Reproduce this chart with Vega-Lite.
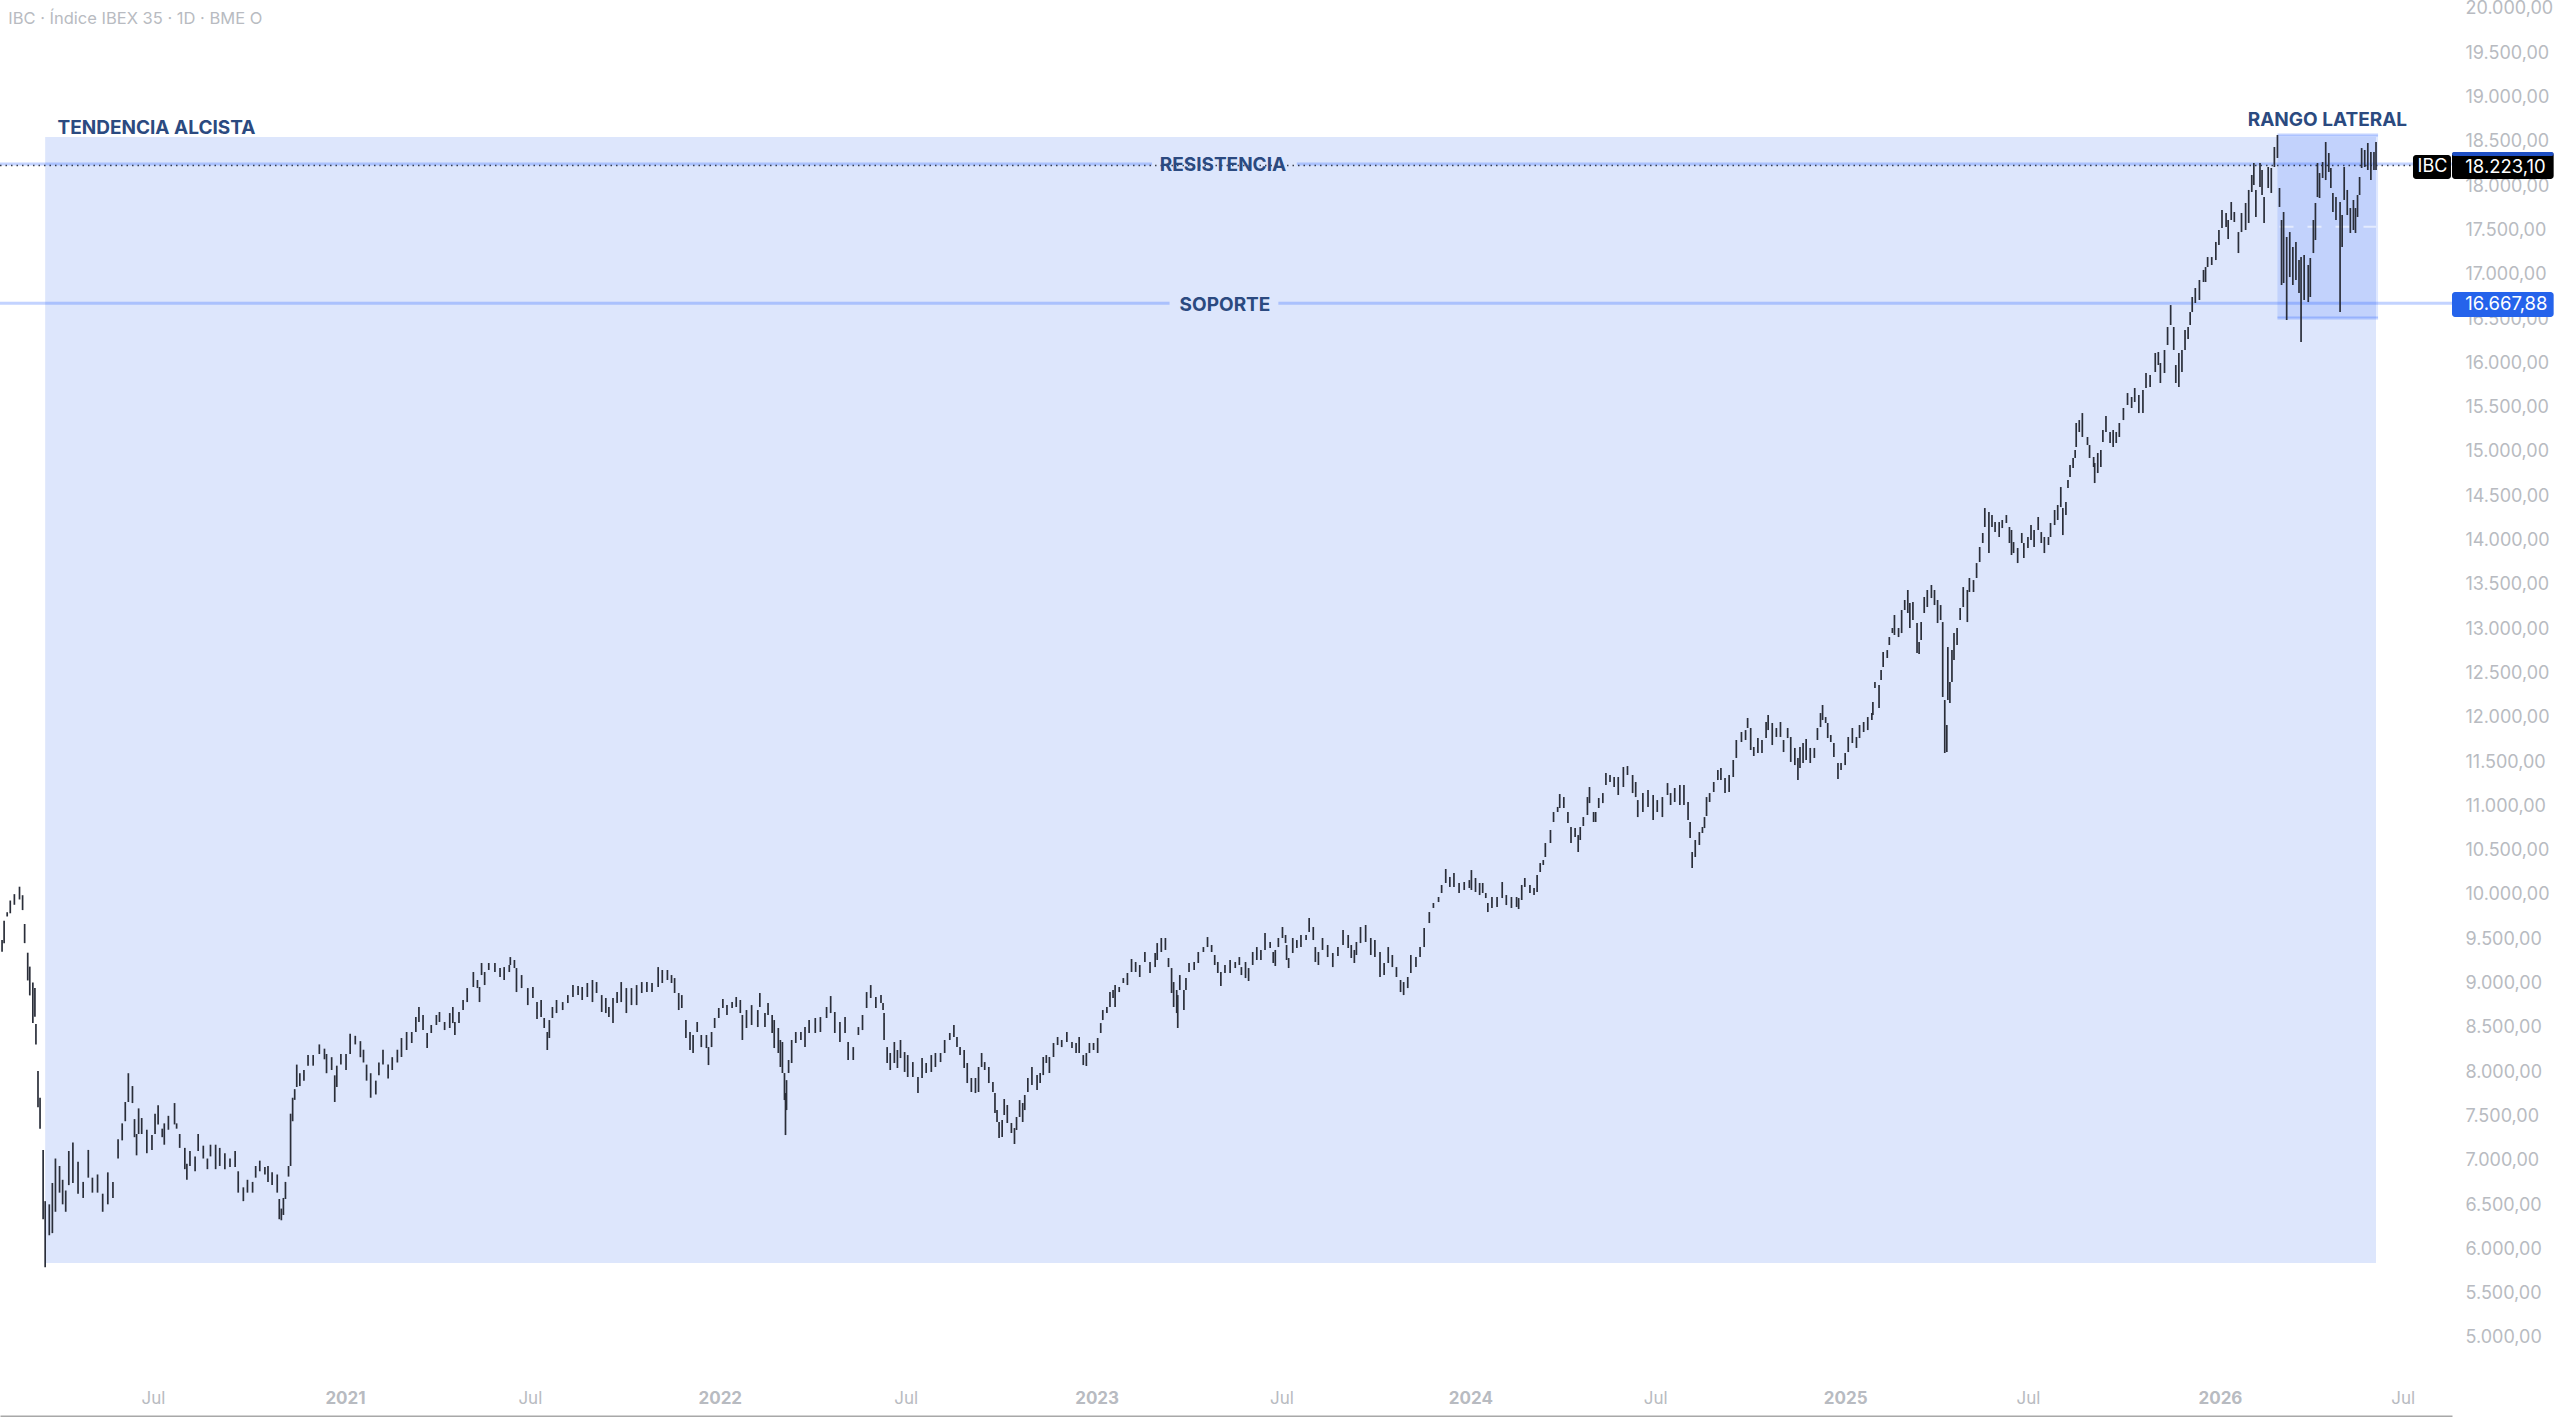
{
"$schema":"https://vega.github.io/schema/vega-lite/v6.json",
"width":2452,"height":1416,"autosize":{"type":"none"},"padding":{"left":0,"top":0,"right":108,"bottom":1},
"background":"#ffffff","config":{"view":{"stroke":null},"font":"Inter"},
"datasets":{
"zones":[{"name":"tendencia","a":"2020-03-15","b":"2026-06-02","lo":5835,"hi":18544},{"name":"rango","a":"2026-02-26","b":"2026-06-04","lo":16501,"hi":18567}],
"levels":[{"name":"resistencia","a":"2020-01-31","b":"2023-02-26","v":18240},{"name":"resistencia","a":"2023-07-17","b":"2026-08-15","v":18240},{"name":"soporte","a":"2020-01-31","b":"2023-03-15","v":16667.88},{"name":"soporte","a":"2023-06-29","b":"2026-08-15","v":16667.88},{"name":"rango techo","a":"2026-02-26","b":"2026-06-04","v":18567},{"name":"rango suelo","a":"2026-02-26","b":"2026-06-04","v":16501}],
"tags":[{"name":"valor","a":"2026-08-15","b":"2026-11-22","lo":18070,"hi":18375,"c":"#000000"},{"name":"simbolo","a":"2026-07-08","b":"2026-08-14","lo":18070,"hi":18340,"c":"#000000"},{"name":"tope","a":"2026-08-15","b":"2026-11-22","lo":18330,"hi":18375,"c":"#1e4fc4"},{"name":"soporte","a":"2026-08-15","b":"2026-11-22","lo":16512,"hi":16794,"c":"#2563eb"}],
"notes":[{"t":"RESISTENCIA","d":"2023-05-06","v":18225},{"t":"SOPORTE","d":"2023-05-08","v":16650}],
"notesLeft":[{"t":"TENDENCIA ALCISTA","d":"2020-03-27","v":18640},{"t":"RANGO LATERAL","d":"2026-01-28","v":18730}],
"tagText":[{"t":"18.223,10","d":"2026-08-28","v":18205},{"t":"16.667,88","d":"2026-08-28","v":16660}],
"bars":[
{"d":"2020-02-02","h":9481,"l":9349},{"d":"2020-02-04","h":9697,"l":9445},{"d":"2020-02-07","h":9794,"l":9746},{"d":"2020-02-10","h":9926,"l":9782},{"d":"2020-02-14","h":9998,"l":9878},{"d":"2020-02-19","h":10082,"l":9938},{"d":"2020-02-22","h":9986,"l":9818},{"d":"2020-02-24","h":9661,"l":9445},{"d":"2020-02-27","h":9337,"l":9024},{"d":"2020-02-29","h":9180,"l":8855},{"d":"2020-03-03","h":9000,"l":8543},{"d":"2020-03-05","h":8940,"l":8615},{"d":"2020-03-06","h":8531,"l":8302},{"d":"2020-03-08","h":8001,"l":7592},{"d":"2020-03-10","h":7700,"l":7351},{"d":"2020-03-13","h":7111,"l":6329},{"d":"2020-03-15","h":6533,"l":5787},{"d":"2020-03-19","h":6497,"l":6148},{"d":"2020-03-22","h":6738,"l":6172},{"d":"2020-03-25","h":7014,"l":6413},{"d":"2020-03-29","h":6930,"l":6629},{"d":"2020-04-01","h":6774,"l":6497},{"d":"2020-04-04","h":6653,"l":6413},{"d":"2020-04-07","h":7099,"l":6714},{"d":"2020-04-11","h":7195,"l":6738},{"d":"2020-04-16","h":6979,"l":6617},{"d":"2020-04-21","h":6750,"l":6569},{"d":"2020-04-26","h":7111,"l":6798},{"d":"2020-04-30","h":6798,"l":6629},{"d":"2020-05-05","h":6834,"l":6629},{"d":"2020-05-10","h":6617,"l":6413},{"d":"2020-05-15","h":6858,"l":6497},{"d":"2020-05-20","h":6750,"l":6569},{"d":"2020-05-25","h":7231,"l":7014},{"d":"2020-05-29","h":7411,"l":7219},{"d":"2020-06-01","h":7652,"l":7435},{"d":"2020-06-04","h":7977,"l":7652},{"d":"2020-06-08","h":7832,"l":7640},{"d":"2020-06-10","h":7459,"l":7255},{"d":"2020-06-12","h":7291,"l":7050},{"d":"2020-06-14","h":7580,"l":7291},{"d":"2020-06-17","h":7471,"l":7291},{"d":"2020-06-22","h":7339,"l":7074},{"d":"2020-06-27","h":7279,"l":7111},{"d":"2020-06-30","h":7520,"l":7291},{"d":"2020-07-03","h":7616,"l":7399},{"d":"2020-07-07","h":7351,"l":7255},{"d":"2020-07-09","h":7411,"l":7170},{"d":"2020-07-13","h":7496,"l":7339},{"d":"2020-07-19","h":7640,"l":7399},{"d":"2020-07-21","h":7411,"l":7351},{"d":"2020-07-24","h":7291,"l":7134},{"d":"2020-07-29","h":7134,"l":6894},{"d":"2020-07-31","h":6954,"l":6774},{"d":"2020-08-03","h":7099,"l":6930},{"d":"2020-08-08","h":7038,"l":6870},{"d":"2020-08-11","h":7291,"l":7099},{"d":"2020-08-16","h":7159,"l":7014},{"d":"2020-08-20","h":7014,"l":6894},{"d":"2020-08-23","h":7170,"l":7038},{"d":"2020-08-28","h":7170,"l":6894},{"d":"2020-09-01","h":7134,"l":6930},{"d":"2020-09-06","h":7074,"l":6894},{"d":"2020-09-11","h":7014,"l":6918},{"d":"2020-09-16","h":7099,"l":6918},{"d":"2020-09-19","h":6870,"l":6629},{"d":"2020-09-24","h":6689,"l":6533},{"d":"2020-09-28","h":6774,"l":6629},{"d":"2020-10-03","h":6750,"l":6629},{"d":"2020-10-06","h":6930,"l":6798},{"d":"2020-10-10","h":6990,"l":6870},{"d":"2020-10-15","h":6918,"l":6834},{"d":"2020-10-18","h":6930,"l":6750},{"d":"2020-10-22","h":6858,"l":6714},{"d":"2020-10-27","h":6834,"l":6629},{"d":"2020-10-29","h":6557,"l":6329},{"d":"2020-10-31","h":6449,"l":6317},{"d":"2020-11-02","h":6569,"l":6377},{"d":"2020-11-04","h":6750,"l":6557},{"d":"2020-11-07","h":6930,"l":6810},{"d":"2020-11-09","h":7520,"l":6930},{"d":"2020-11-11","h":7700,"l":7435},{"d":"2020-11-13","h":7797,"l":7676},{"d":"2020-11-15","h":8074,"l":7821},{"d":"2020-11-18","h":7977,"l":7832},{"d":"2020-11-22","h":8013,"l":7893},{"d":"2020-11-26","h":8182,"l":8062},{"d":"2020-12-01","h":8182,"l":8062},{"d":"2020-12-07","h":8302,"l":8194},{"d":"2020-12-12","h":8254,"l":8134},{"d":"2020-12-14","h":8194,"l":7977},{"d":"2020-12-19","h":8158,"l":8013},{"d":"2020-12-22","h":7953,"l":7652},{"d":"2020-12-24","h":8062,"l":7821},{"d":"2020-12-28","h":8194,"l":8074},{"d":"2021-01-02","h":8194,"l":8013},{"d":"2021-01-06","h":8423,"l":8194},{"d":"2021-01-11","h":8399,"l":8302},{"d":"2021-01-16","h":8339,"l":8158},{"d":"2021-01-19","h":8242,"l":8098},{"d":"2021-01-22","h":8074,"l":7893},{"d":"2021-01-26","h":7977,"l":7700},{"d":"2021-01-31","h":7893,"l":7737},{"d":"2021-02-03","h":8098,"l":7953},{"d":"2021-02-07","h":8242,"l":8074},{"d":"2021-02-12","h":8074,"l":7917},{"d":"2021-02-16","h":8158,"l":8013},{"d":"2021-02-21","h":8242,"l":8098},
{"d":"2021-02-25","h":8374,"l":8160},{"d":"2021-03-02","h":8442,"l":8239},{"d":"2021-03-07","h":8442,"l":8318},{"d":"2021-03-11","h":8611,"l":8442},{"d":"2021-03-14","h":8724,"l":8555},{"d":"2021-03-18","h":8634,"l":8464},{"d":"2021-03-22","h":8431,"l":8261},{"d":"2021-03-26","h":8521,"l":8431},{"d":"2021-03-31","h":8634,"l":8521},{"d":"2021-04-03","h":8668,"l":8555},{"d":"2021-04-08","h":8555,"l":8464},{"d":"2021-04-13","h":8656,"l":8487},{"d":"2021-04-16","h":8724,"l":8543},{"d":"2021-04-18","h":8555,"l":8408},{"d":"2021-04-22","h":8668,"l":8543},{"d":"2021-04-26","h":8803,"l":8690},{"d":"2021-04-30","h":8938,"l":8780},{"d":"2021-05-06","h":9119,"l":8950},{"d":"2021-05-10","h":9029,"l":8938},{"d":"2021-05-12","h":8950,"l":8780},{"d":"2021-05-14","h":9221,"l":9085},{"d":"2021-05-17","h":9119,"l":8972},{"d":"2021-05-21","h":9221,"l":9142},{"d":"2021-05-27","h":9221,"l":9119},{"d":"2021-06-01","h":9164,"l":9063},{"d":"2021-06-05","h":9175,"l":9029},{"d":"2021-06-10","h":9198,"l":9119},{"d":"2021-06-11","h":9288,"l":9198},{"d":"2021-06-15","h":9255,"l":9164},{"d":"2021-06-17","h":9164,"l":8893},{"d":"2021-06-22","h":9085,"l":8938},{"d":"2021-06-28","h":8938,"l":8746},{"d":"2021-07-03","h":8950,"l":8826},{"d":"2021-07-07","h":8780,"l":8588},{"d":"2021-07-11","h":8803,"l":8611},{"d":"2021-07-14","h":8600,"l":8487},{"d":"2021-07-17","h":8442,"l":8239},{"d":"2021-07-19","h":8577,"l":8374},{"d":"2021-07-22","h":8724,"l":8600},{"d":"2021-07-26","h":8803,"l":8656},{"d":"2021-08-01","h":8780,"l":8690},{"d":"2021-08-06","h":8859,"l":8769},{"d":"2021-08-11","h":8972,"l":8837},{"d":"2021-08-16","h":8961,"l":8859},{"d":"2021-08-20","h":8950,"l":8803},{"d":"2021-08-25","h":8995,"l":8837},{"d":"2021-08-30","h":9029,"l":8780},{"d":"2021-09-03","h":9006,"l":8882},{"d":"2021-09-08","h":8859,"l":8668},{"d":"2021-09-12","h":8826,"l":8656},{"d":"2021-09-15","h":8724,"l":8611},{"d":"2021-09-19","h":8826,"l":8543},{"d":"2021-09-23","h":8893,"l":8769},{"d":"2021-09-27","h":9006,"l":8780},{"d":"2021-10-02","h":8938,"l":8656},{"d":"2021-10-07","h":8938,"l":8746},{"d":"2021-10-12","h":8972,"l":8746},{"d":"2021-10-17","h":9006,"l":8882},{"d":"2021-10-22","h":9006,"l":8893},{"d":"2021-10-27","h":8995,"l":8893},{"d":"2021-11-02","h":9175,"l":8950},{"d":"2021-11-06","h":9142,"l":8995},{"d":"2021-11-11","h":9142,"l":9029},{"d":"2021-11-15","h":9085,"l":8995},{"d":"2021-11-18","h":9051,"l":8882},{"d":"2021-11-22","h":8882,"l":8690},{"d":"2021-11-25","h":8859,"l":8713},{"d":"2021-11-29","h":8577,"l":8374},{"d":"2021-12-03","h":8442,"l":8239},{"d":"2021-12-06","h":8408,"l":8205},{"d":"2021-12-10","h":8555,"l":8442},{"d":"2021-12-14","h":8408,"l":8272},{"d":"2021-12-19","h":8408,"l":8261},{"d":"2021-12-21","h":8272,"l":8069},{"d":"2021-12-24","h":8442,"l":8272},{"d":"2021-12-27","h":8600,"l":8487},{"d":"2021-12-31","h":8713,"l":8600},{"d":"2022-01-04","h":8814,"l":8713},{"d":"2022-01-08","h":8746,"l":8634},{"d":"2022-01-13","h":8780,"l":8713},{"d":"2022-01-17","h":8837,"l":8724},{"d":"2022-01-21","h":8803,"l":8656},{"d":"2022-01-23","h":8634,"l":8352},{"d":"2022-01-27","h":8690,"l":8487},{"d":"2022-02-01","h":8746,"l":8521},{"d":"2022-02-07","h":8690,"l":8498},{"d":"2022-02-09","h":8882,"l":8724},{"d":"2022-02-14","h":8656,"l":8498},{"d":"2022-02-17","h":8769,"l":8634},{"d":"2022-02-21","h":8634,"l":8431},{"d":"2022-02-23","h":8577,"l":8261},{"d":"2022-02-27","h":8487,"l":8205},{"d":"2022-03-01","h":8352,"l":8047},{"d":"2022-03-03","h":8329,"l":7979},{"d":"2022-03-05","h":7979,"l":7674},{"d":"2022-03-06","h":7753,"l":7279},{"d":"2022-03-07","h":7899,"l":7561},{"d":"2022-03-09","h":8126,"l":7979},{"d":"2022-03-12","h":8352,"l":8092},{"d":"2022-03-16","h":8442,"l":8318},{"d":"2022-03-21","h":8442,"l":8352},{"d":"2022-03-25","h":8498,"l":8272},{"d":"2022-03-29","h":8577,"l":8431},{"d":"2022-04-04","h":8600,"l":8431},{"d":"2022-04-09","h":8611,"l":8442},{"d":"2022-04-15","h":8724,"l":8600},{"d":"2022-04-19","h":8848,"l":8656},{"d":"2022-04-23","h":8668,"l":8431},{"d":"2022-04-28","h":8555,"l":8329},{"d":"2022-05-03","h":8611,"l":8431},{"d":"2022-05-06","h":8329,"l":8126},{"d":"2022-05-11","h":8272,"l":8126},{"d":"2022-05-16","h":8498,"l":8408},{"d":"2022-05-20","h":8634,"l":8464},{"d":"2022-05-24","h":8893,"l":8713},{"d":"2022-05-28","h":8972,"l":8826},{"d":"2022-06-02","h":8837,"l":8713},{"d":"2022-06-07","h":8859,"l":8769},{"d":"2022-06-09","h":8769,"l":8690},{"d":"2022-06-10","h":8656,"l":8352},{"d":"2022-06-13","h":8272,"l":8092},{"d":"2022-06-16","h":8205,"l":8013},{"d":"2022-06-20","h":8329,"l":8092},
{"d":"2022-06-23","h":8239,"l":8036},{"d":"2022-06-26","h":8352,"l":8148},{"d":"2022-06-30","h":8216,"l":7991},{"d":"2022-07-03","h":8182,"l":7934},{"d":"2022-07-08","h":8103,"l":7934},{"d":"2022-07-13","h":7934,"l":7753},{"d":"2022-07-17","h":8148,"l":7923},{"d":"2022-07-21","h":8092,"l":7979},{"d":"2022-07-26","h":8182,"l":7991},{"d":"2022-07-30","h":8205,"l":8047},{"d":"2022-08-04","h":8205,"l":8103},{"d":"2022-08-08","h":8352,"l":8205},{"d":"2022-08-13","h":8431,"l":8352},{"d":"2022-08-17","h":8521,"l":8386},{"d":"2022-08-20","h":8386,"l":8272},{"d":"2022-08-23","h":8272,"l":8182},{"d":"2022-08-27","h":8239,"l":8036},{"d":"2022-08-30","h":8092,"l":7866},{"d":"2022-09-03","h":7923,"l":7765},{"d":"2022-09-07","h":7923,"l":7753},{"d":"2022-09-10","h":8047,"l":7765},{"d":"2022-09-13","h":8205,"l":8047},{"d":"2022-09-16","h":8103,"l":8013},{"d":"2022-09-20","h":8047,"l":7866},{"d":"2022-09-24","h":7877,"l":7765},{"d":"2022-09-26","h":7753,"l":7528},{"d":"2022-09-28","h":7561,"l":7426},{"d":"2022-09-30","h":7426,"l":7246},{"d":"2022-10-03","h":7449,"l":7257},{"d":"2022-10-05","h":7686,"l":7505},{"d":"2022-10-08","h":7618,"l":7415},{"d":"2022-10-12","h":7415,"l":7302},{"d":"2022-10-15","h":7358,"l":7178},{"d":"2022-10-17","h":7483,"l":7336},{"d":"2022-10-20","h":7674,"l":7483},{"d":"2022-10-23","h":7641,"l":7426},{"d":"2022-10-25","h":7731,"l":7561},{"d":"2022-10-28","h":7923,"l":7765},{"d":"2022-11-01","h":8047,"l":7844},{"d":"2022-11-06","h":7956,"l":7787},{"d":"2022-11-09","h":7979,"l":7866},{"d":"2022-11-12","h":8160,"l":7956},{"d":"2022-11-15","h":8182,"l":8092},{"d":"2022-11-18","h":8160,"l":7979},{"d":"2022-11-22","h":8318,"l":8160},{"d":"2022-11-26","h":8386,"l":8295},{"d":"2022-11-30","h":8352,"l":8272},{"d":"2022-12-05","h":8442,"l":8329},{"d":"2022-12-10","h":8329,"l":8261},{"d":"2022-12-14","h":8318,"l":8205},{"d":"2022-12-17","h":8386,"l":8205},{"d":"2022-12-21","h":8182,"l":8069},{"d":"2022-12-24","h":8205,"l":8058},{"d":"2022-12-27","h":8318,"l":8205},{"d":"2022-12-31","h":8318,"l":8239},{"d":"2023-01-04","h":8374,"l":8205},{"d":"2023-01-07","h":8543,"l":8431},{"d":"2023-01-09","h":8690,"l":8577},{"d":"2023-01-13","h":8724,"l":8656},{"d":"2023-01-16","h":8893,"l":8724},{"d":"2023-01-19","h":8916,"l":8826},{"d":"2023-01-21","h":8972,"l":8724},{"d":"2023-01-25","h":8950,"l":8893},{"d":"2023-01-29","h":9051,"l":8995},{"d":"2023-02-02","h":9108,"l":8972},{"d":"2023-02-06","h":9266,"l":9119},{"d":"2023-02-10","h":9232,"l":9119},{"d":"2023-02-14","h":9198,"l":9063},{"d":"2023-02-19","h":9345,"l":9232},{"d":"2023-02-24","h":9232,"l":9108},{"d":"2023-03-01","h":9334,"l":9175},{"d":"2023-03-03","h":9446,"l":9255},{"d":"2023-03-07","h":9503,"l":9345},{"d":"2023-03-11","h":9503,"l":9368},{"d":"2023-03-14","h":9277,"l":9175},{"d":"2023-03-17","h":9164,"l":8882},{"d":"2023-03-19","h":9006,"l":8724},{"d":"2023-03-22","h":8916,"l":8656},{"d":"2023-03-23","h":8859,"l":8487},{"d":"2023-03-25","h":9085,"l":8916},{"d":"2023-03-29","h":8916,"l":8690},{"d":"2023-03-31","h":9051,"l":8916},{"d":"2023-04-03","h":9221,"l":9119},{"d":"2023-04-08","h":9232,"l":9142},{"d":"2023-04-12","h":9345,"l":9221},{"d":"2023-04-17","h":9401,"l":9345},{"d":"2023-04-21","h":9514,"l":9401},{"d":"2023-04-25","h":9424,"l":9345},{"d":"2023-04-28","h":9311,"l":9198},{"d":"2023-05-01","h":9232,"l":9108},{"d":"2023-05-04","h":9119,"l":8961},{"d":"2023-05-08","h":9198,"l":9108},{"d":"2023-05-13","h":9255,"l":9108},{"d":"2023-05-18","h":9232,"l":9164},{"d":"2023-05-22","h":9288,"l":9198},{"d":"2023-05-24","h":9175,"l":9085},{"d":"2023-05-28","h":9232,"l":9051},{"d":"2023-05-31","h":9164,"l":9018},{"d":"2023-06-04","h":9345,"l":9198},{"d":"2023-06-08","h":9401,"l":9255},{"d":"2023-06-12","h":9368,"l":9255},{"d":"2023-06-16","h":9559,"l":9368},{"d":"2023-06-21","h":9458,"l":9390},{"d":"2023-06-24","h":9345,"l":9221},{"d":"2023-06-26","h":9368,"l":9187},{"d":"2023-06-29","h":9503,"l":9401},{"d":"2023-07-03","h":9627,"l":9503},{"d":"2023-07-06","h":9537,"l":9446},{"d":"2023-07-07","h":9424,"l":9255},{"d":"2023-07-09","h":9277,"l":9164},{"d":"2023-07-13","h":9503,"l":9334},{"d":"2023-07-17","h":9480,"l":9390},{"d":"2023-07-21","h":9537,"l":9401},{"d":"2023-07-26","h":9537,"l":9480},{"d":"2023-07-29","h":9729,"l":9571},{"d":"2023-08-02","h":9627,"l":9480},{"d":"2023-08-04","h":9401,"l":9232},{"d":"2023-08-07","h":9345,"l":9198},{"d":"2023-08-11","h":9503,"l":9368},{"d":"2023-08-16","h":9424,"l":9288},{"d":"2023-08-21","h":9334,"l":9175},{"d":"2023-08-26","h":9401,"l":9300},{"d":"2023-08-31","h":9593,"l":9424},{"d":"2023-09-05","h":9537,"l":9390},
{"d":"2023-09-08","h":9424,"l":9277},{"d":"2023-09-11","h":9368,"l":9221},{"d":"2023-09-13","h":9458,"l":9311},{"d":"2023-09-17","h":9627,"l":9446},{"d":"2023-09-22","h":9650,"l":9458},{"d":"2023-09-27","h":9503,"l":9311},{"d":"2023-10-01","h":9480,"l":9288},{"d":"2023-10-06","h":9345,"l":9063},{"d":"2023-10-10","h":9221,"l":9085},{"d":"2023-10-14","h":9401,"l":9221},{"d":"2023-10-18","h":9311,"l":9175},{"d":"2023-10-22","h":9175,"l":9063},{"d":"2023-10-26","h":9029,"l":8893},{"d":"2023-10-29","h":9006,"l":8859},{"d":"2023-11-02","h":9063,"l":8938},{"d":"2023-11-05","h":9311,"l":9108},{"d":"2023-11-10","h":9288,"l":9175},{"d":"2023-11-14","h":9401,"l":9288},{"d":"2023-11-18","h":9616,"l":9401},{"d":"2023-11-23","h":9796,"l":9672},{"d":"2023-11-27","h":9898,"l":9842},{"d":"2023-12-02","h":9966,"l":9909},{"d":"2023-12-05","h":10101,"l":10011},{"d":"2023-12-09","h":10282,"l":10124},{"d":"2023-12-13","h":10192,"l":10079},{"d":"2023-12-17","h":10237,"l":10079},{"d":"2023-12-22","h":10124,"l":10011},{"d":"2023-12-27","h":10135,"l":10045},{"d":"2024-01-01","h":10157,"l":10067},{"d":"2024-01-03","h":10270,"l":10045},{"d":"2024-01-07","h":10180,"l":10022},{"d":"2024-01-11","h":10124,"l":9988},{"d":"2024-01-14","h":10124,"l":10011},{"d":"2024-01-17","h":10011,"l":9954},{"d":"2024-01-19","h":9898,"l":9796},{"d":"2024-01-23","h":9966,"l":9842},{"d":"2024-01-28","h":9966,"l":9853},{"d":"2024-02-02","h":10135,"l":9954},{"d":"2024-02-06","h":9988,"l":9875},{"d":"2024-02-11","h":9966,"l":9842},{"d":"2024-02-16","h":9966,"l":9853},{"d":"2024-02-18","h":9954,"l":9830},{"d":"2024-02-21","h":10101,"l":9932},{"d":"2024-02-24","h":10180,"l":10079},{"d":"2024-02-29","h":10101,"l":10011},{"d":"2024-03-04","h":10067,"l":9988},{"d":"2024-03-07","h":10214,"l":10022},{"d":"2024-03-10","h":10349,"l":10248},{"d":"2024-03-13","h":10383,"l":10327},{"d":"2024-03-15","h":10575,"l":10417},{"d":"2024-03-20","h":10722,"l":10575},{"d":"2024-03-23","h":10925,"l":10812},{"d":"2024-03-27","h":10982,"l":10925},{"d":"2024-03-29","h":11128,"l":10970},{"d":"2024-04-02","h":11094,"l":10970},{"d":"2024-04-06","h":10925,"l":10801},{"d":"2024-04-09","h":10756,"l":10575},{"d":"2024-04-13","h":10744,"l":10643},{"d":"2024-04-16","h":10665,"l":10474},{"d":"2024-04-18","h":10756,"l":10609},{"d":"2024-04-21","h":10868,"l":10767},{"d":"2024-04-25","h":11094,"l":10891},{"d":"2024-04-27","h":11207,"l":11026},{"d":"2024-05-01","h":10925,"l":10812},{"d":"2024-05-03","h":10925,"l":10812},{"d":"2024-05-06","h":11083,"l":10970},{"d":"2024-05-10","h":11139,"l":11026},{"d":"2024-05-13","h":11365,"l":11230},{"d":"2024-05-17","h":11343,"l":11264},{"d":"2024-05-21","h":11320,"l":11207},{"d":"2024-05-25","h":11320,"l":11117},{"d":"2024-05-30","h":11433,"l":11207},{"d":"2024-06-03","h":11444,"l":11343},{"d":"2024-06-08","h":11343,"l":11139},{"d":"2024-06-11","h":11264,"l":11094},{"d":"2024-06-13","h":11060,"l":10868},{"d":"2024-06-18","h":11139,"l":10925},{"d":"2024-06-23","h":11173,"l":10982},{"d":"2024-06-28","h":11117,"l":10835},{"d":"2024-07-02","h":11060,"l":10925},{"d":"2024-07-07","h":11094,"l":10868},{"d":"2024-07-12","h":11252,"l":11117},{"d":"2024-07-15","h":11139,"l":11004},{"d":"2024-07-19","h":11196,"l":11038},{"d":"2024-07-24","h":11230,"l":11004},{"d":"2024-07-28","h":11230,"l":11004},{"d":"2024-08-01","h":11038,"l":10835},{"d":"2024-08-03","h":10812,"l":10632},{"d":"2024-08-05","h":10474,"l":10293},{"d":"2024-08-08","h":10609,"l":10417},{"d":"2024-08-12","h":10699,"l":10553},{"d":"2024-08-15","h":10756,"l":10688},{"d":"2024-08-17","h":10868,"l":10744},{"d":"2024-08-19","h":11094,"l":10880},{"d":"2024-08-22","h":11139,"l":11038},{"d":"2024-08-26","h":11264,"l":11151},{"d":"2024-08-30","h":11399,"l":11286},{"d":"2024-09-02","h":11422,"l":11286},{"d":"2024-09-06","h":11309,"l":11139},{"d":"2024-09-10","h":11343,"l":11151},{"d":"2024-09-14","h":11512,"l":11320},{"d":"2024-09-17","h":11738,"l":11535},{"d":"2024-09-22","h":11828,"l":11715},{"d":"2024-09-26","h":11850,"l":11738},{"d":"2024-09-28","h":11986,"l":11873},{"d":"2024-10-01","h":11873,"l":11625},{"d":"2024-10-04","h":11659,"l":11557},{"d":"2024-10-08","h":11760,"l":11591},{"d":"2024-10-12","h":11738,"l":11591},{"d":"2024-10-16","h":11941,"l":11760},{"d":"2024-10-18","h":12020,"l":11850},{"d":"2024-10-22","h":11930,"l":11681},{"d":"2024-10-26","h":11873,"l":11772},{"d":"2024-10-30","h":11941,"l":11772},{"d":"2024-11-02","h":11738,"l":11602},{"d":"2024-11-06","h":11873,"l":11760},{"d":"2024-11-09","h":11772,"l":11490},{"d":"2024-11-13","h":11648,"l":11455},{"d":"2024-11-16","h":11535,"l":11286},{"d":"2024-11-18","h":11659,"l":11422},{"d":"2024-11-21","h":11704,"l":11478},{"d":"2024-11-24","h":11749,"l":11512},{"d":"2024-11-28","h":11648,"l":11478},{"d":"2024-12-02","h":11648,"l":11535},{"d":"2024-12-05","h":11873,"l":11738},{"d":"2024-12-08","h":12042,"l":11884},{"d":"2024-12-10","h":12133,"l":11963},{"d":"2024-12-13","h":11997,"l":11930},{"d":"2024-12-15","h":11930,"l":11760},{"d":"2024-12-18","h":11794,"l":11715},{"d":"2024-12-21","h":11704,"l":11546},{"d":"2024-12-25","h":11478,"l":11297},{"d":"2024-12-28","h":11478,"l":11399},
{"d":"2025-01-01","h":11591,"l":11455},{"d":"2025-01-04","h":11772,"l":11602},{"d":"2025-01-08","h":11873,"l":11704},{"d":"2025-01-12","h":11772,"l":11648},{"d":"2025-01-15","h":11907,"l":11760},{"d":"2025-01-19","h":11941,"l":11828},{"d":"2025-01-23","h":11997,"l":11850},{"d":"2025-01-27","h":12042,"l":11963},{"d":"2025-01-28","h":12166,"l":12020},{"d":"2025-01-30","h":12392,"l":12325},{"d":"2025-02-03","h":12358,"l":12099},{"d":"2025-02-05","h":12528,"l":12415},{"d":"2025-02-07","h":12731,"l":12562},{"d":"2025-02-11","h":12753,"l":12663},{"d":"2025-02-13","h":12900,"l":12810},{"d":"2025-02-16","h":13002,"l":12945},{"d":"2025-02-18","h":13149,"l":12923},{"d":"2025-02-22","h":13002,"l":12900},{"d":"2025-02-25","h":13205,"l":12945},{"d":"2025-02-28","h":13318,"l":13205},{"d":"2025-03-03","h":13431,"l":13171},{"d":"2025-03-05","h":13284,"l":13002},{"d":"2025-03-08","h":13295,"l":13092},{"d":"2025-03-12","h":13058,"l":12720},{"d":"2025-03-14","h":12844,"l":12708},{"d":"2025-03-16","h":13069,"l":12866},{"d":"2025-03-19","h":13352,"l":13171},{"d":"2025-03-22","h":13431,"l":13239},{"d":"2025-03-26","h":13487,"l":13340},{"d":"2025-03-29","h":13431,"l":13261},{"d":"2025-04-01","h":13318,"l":13058},{"d":"2025-04-04","h":13261,"l":13092},{"d":"2025-04-06","h":13069,"l":12223},{"d":"2025-04-08","h":12189,"l":11591},{"d":"2025-04-10","h":11907,"l":11602},{"d":"2025-04-11","h":12787,"l":12189},{"d":"2025-04-13","h":12392,"l":12155},{"d":"2025-04-15","h":12753,"l":12392},{"d":"2025-04-17","h":12945,"l":12641},{"d":"2025-04-20","h":13002,"l":12810},{"d":"2025-04-23","h":13228,"l":13092},{"d":"2025-04-26","h":13464,"l":13239},{"d":"2025-04-30","h":13431,"l":13069},{"d":"2025-05-02","h":13566,"l":13408},{"d":"2025-05-06","h":13543,"l":13408},{"d":"2025-05-09","h":13735,"l":13566},{"d":"2025-05-12","h":13916,"l":13747},{"d":"2025-05-15","h":14074,"l":13961},{"d":"2025-05-17","h":14356,"l":14142},{"d":"2025-05-21","h":14311,"l":13848},{"d":"2025-05-24","h":14277,"l":14142},{"d":"2025-05-27","h":14198,"l":14085},{"d":"2025-05-31","h":14198,"l":14029},{"d":"2025-06-03","h":14221,"l":14130},{"d":"2025-06-07","h":14277,"l":14187},{"d":"2025-06-10","h":14142,"l":13961},{"d":"2025-06-12","h":14108,"l":13826},{"d":"2025-06-14","h":13972,"l":13848},{"d":"2025-06-18","h":13905,"l":13735},{"d":"2025-06-22","h":14074,"l":13961},{"d":"2025-06-24","h":13961,"l":13792},{"d":"2025-06-28","h":14029,"l":13905},{"d":"2025-07-01","h":14164,"l":13995},{"d":"2025-07-04","h":14108,"l":13916},{"d":"2025-07-08","h":14255,"l":14108},{"d":"2025-07-11","h":14085,"l":13961},{"d":"2025-07-14","h":14029,"l":13848},{"d":"2025-07-18","h":14029,"l":13939},{"d":"2025-07-20","h":14187,"l":14029},{"d":"2025-07-24","h":14334,"l":14164},{"d":"2025-07-27","h":14390,"l":14221},{"d":"2025-07-30","h":14593,"l":14367},{"d":"2025-08-01","h":14356,"l":14051},{"d":"2025-08-04","h":14424,"l":14277},{"d":"2025-08-06","h":14672,"l":14582},{"d":"2025-08-08","h":14842,"l":14706},{"d":"2025-08-11","h":14921,"l":14808},{"d":"2025-08-13","h":15011,"l":14921},{"d":"2025-08-14","h":15316,"l":15045},{"d":"2025-08-17","h":15349,"l":15214},{"d":"2025-08-20","h":15428,"l":15158},{"d":"2025-08-25","h":15158,"l":15067},{"d":"2025-08-27","h":15067,"l":14921},{"d":"2025-08-31","h":14932,"l":14819},{"d":"2025-09-01","h":14864,"l":14638},{"d":"2025-09-04","h":14977,"l":14751},{"d":"2025-09-07","h":15011,"l":14819},{"d":"2025-09-09","h":15237,"l":15101},{"d":"2025-09-12","h":15395,"l":15214},{"d":"2025-09-16","h":15214,"l":15090},{"d":"2025-09-19","h":15237,"l":15045},{"d":"2025-09-22","h":15214,"l":15090},{"d":"2025-09-25","h":15316,"l":15158},{"d":"2025-09-29","h":15485,"l":15349},{"d":"2025-10-03","h":15654,"l":15519},{"d":"2025-10-07","h":15609,"l":15485},{"d":"2025-10-10","h":15711,"l":15553},{"d":"2025-10-14","h":15632,"l":15428},{"d":"2025-10-18","h":15688,"l":15428},{"d":"2025-10-21","h":15880,"l":15711},{"d":"2025-10-25","h":15857,"l":15722},{"d":"2025-10-30","h":16106,"l":15891},{"d":"2025-11-02","h":16117,"l":15970},{"d":"2025-11-04","h":15993,"l":15767},{"d":"2025-11-08","h":16140,"l":15880},{"d":"2025-11-11","h":16399,"l":16196},{"d":"2025-11-14","h":16647,"l":16422},{"d":"2025-11-17","h":16399,"l":16140},{"d":"2025-11-19","h":15970,"l":15767},{"d":"2025-11-22","h":16106,"l":15722},{"d":"2025-11-25","h":16140,"l":15891},{"d":"2025-11-28","h":16365,"l":16140},{"d":"2025-12-01","h":16399,"l":16264},{"d":"2025-12-03","h":16568,"l":16422},{"d":"2025-12-05","h":16738,"l":16568},{"d":"2025-12-08","h":16839,"l":16670},{"d":"2025-12-12","h":16930,"l":16704},{"d":"2025-12-16","h":17043,"l":16907},{"d":"2025-12-18","h":17076,"l":16907},{"d":"2025-12-20","h":17189,"l":17076},{"d":"2025-12-24","h":17189,"l":17099},{"d":"2025-12-28","h":17359,"l":17155},{"d":"2025-12-31","h":17494,"l":17325},{"d":"2026-01-03","h":17720,"l":17517},{"d":"2026-01-07","h":17686,"l":17528},{"d":"2026-01-09","h":17607,"l":17392},{"d":"2026-01-12","h":17810,"l":17607},{"d":"2026-01-15","h":17697,"l":17584},{"d":"2026-01-19","h":17471,"l":17234},{"d":"2026-01-22","h":17686,"l":17471},{"d":"2026-01-26","h":17799,"l":17494},{"d":"2026-01-29","h":17946,"l":17573},{"d":"2026-02-01","h":18115,"l":17923},{"d":"2026-02-03","h":18250,"l":18002},{"d":"2026-02-05","h":17946,"l":17641},{"d":"2026-02-09","h":18250,"l":17979},{"d":"2026-02-11","h":18171,"l":17889},{"d":"2026-02-13","h":17866,"l":17573},{"d":"2026-02-17","h":18205,"l":17968},{"d":"2026-02-20","h":18194,"l":17912},{"d":"2026-02-23","h":18431,"l":18205},{"d":"2026-02-26","h":18566,"l":18307},{"d":"2026-02-28","h":17968,"l":17754},{"d":"2026-03-02","h":17607,"l":16873},{"d":"2026-03-04","h":17697,"l":16896},{"d":"2026-03-07","h":17415,"l":16478},{"d":"2026-03-10","h":17471,"l":16963},{"d":"2026-03-13","h":17302,"l":16873},{"d":"2026-03-16","h":17359,"l":16930},{"d":"2026-03-19","h":17155,"l":16783},{"d":"2026-03-21","h":17189,"l":16230},{"d":"2026-03-24","h":17212,"l":16704},{"d":"2026-03-28","h":17099,"l":16681},{"d":"2026-03-30","h":17178,"l":16738},{"d":"2026-04-02","h":17607,"l":17234},{"d":"2026-04-04","h":17799,"l":17381},{"d":"2026-04-06","h":18250,"l":17866},{"d":"2026-04-08","h":18137,"l":17855},{"d":"2026-04-11","h":18261,"l":18081},{"d":"2026-04-14","h":18487,"l":18058},{"d":"2026-04-17","h":18363,"l":18149},{"d":"2026-04-19","h":18194,"l":17968},{"d":"2026-04-21","h":17912,"l":17697},{"d":"2026-04-24","h":17866,"l":17607},{"d":"2026-04-28","h":17810,"l":16568},{"d":"2026-04-30","h":17663,"l":17302},{"d":"2026-05-02","h":18205,"l":17833},{"d":"2026-05-05","h":17946,"l":17663},{"d":"2026-05-08","h":17742,"l":17460},{"d":"2026-05-11","h":17833,"l":17494},{"d":"2026-05-13","h":17742,"l":17460},{"d":"2026-05-15","h":17889,"l":17641},{"d":"2026-05-17","h":18092,"l":17889},{"d":"2026-05-19","h":18419,"l":18194},{"d":"2026-05-22","h":18397,"l":18205},{"d":"2026-05-25","h":18476,"l":18171},{"d":"2026-05-28","h":18374,"l":18058},{"d":"2026-05-31","h":18374,"l":18171},{"d":"2026-06-02","h":18487,"l":18171}
]},
"layer":[
{"data":{"name":"zones"},"transform":[{"filter":"datum.name=='tendencia'"}],"mark":{"type":"rect","color":"#dde6fc"},
"encoding":{"x":{"field":"a","type":"temporal","title":null,"scale":{"type":"utc","domain":[{"year":2020,"month":1,"date":31,"utc":true},{"year":2026,"month":8,"date":15,"utc":true}],"nice":false},
"axis":{"orient":"bottom","title":null,"grid":false,"ticks":false,"domainColor":"#a8a8a8","domainWidth":2,"labelColor":"#b8bbc1","labelFont":"Inter","labelFontSize":17,"labelPadding":-26,"labelBaseline":"top","labelOverlap":false,"labelBound":false,"labelFlush":false,
"values":[{"year":2020,"month":6,"date":28,"utc":true},{"year":2021,"month":1,"date":1,"utc":true},{"year":2021,"month":6,"date":30,"utc":true},{"year":2022,"month":1,"date":1,"utc":true},{"year":2022,"month":7,"date":1,"utc":true},{"year":2023,"month":1,"date":3,"utc":true},{"year":2023,"month":7,"date":2,"utc":true},{"year":2024,"month":1,"date":2,"utc":true},{"year":2024,"month":6,"date":30,"utc":true},{"year":2025,"month":1,"date":1,"utc":true},{"year":2025,"month":6,"date":28,"utc":true},{"year":2026,"month":1,"date":1,"utc":true},{"year":2026,"month":6,"date":28,"utc":true}],
"labelExpr":"utcmonth(datum.value)==0 ? utcFormat(datum.value,'%Y') : 'Jul'",
"labelFontWeight":{"condition":{"test":"utcmonth(datum.value)==0","value":700},"value":400}}},
"x2":{"field":"b"},
"y":{"field":"lo","type":"quantitative","title":null,"scale":{"domain":[4108,20090],"nice":false,"zero":false},
"axis":{"orient":"right","title":null,"grid":false,"ticks":false,"domain":false,"labelColor":"#b8bbc1","labelFont":"Inter","labelFontSize":18,"labelPadding":13,"labelOverlap":false,"labelBound":false,"labelFlush":false,"labelOffset":1,
"values":[5000,5500,6000,6500,7000,7500,8000,8500,9000,9500,10000,10500,11000,11500,12000,12500,13000,13500,14000,14500,15000,15500,16000,16500,17000,17500,18000,18500,19000,19500,20000],
"labelExpr":"replace(format(datum.value,',.0f'),',','.')+',00'"}},
"y2":{"field":"hi"}}},
{"data":{"name":"zones"},"transform":[{"filter":"datum.name=='rango'"}],"mark":{"type":"rect","color":"#2962ff","opacity":0.15},
"encoding":{"x":{"field":"a","type":"temporal"},"x2":{"field":"b"},"y":{"field":"lo","type":"quantitative"},"y2":{"field":"hi"}}},
{"data":{"name":"levels"},"mark":{"type":"rule","color":"#2962ff","opacity":0.28,"strokeWidth":3},
"encoding":{"x":{"field":"a","type":"temporal"},"x2":{"field":"b"},"y":{"field":"v","type":"quantitative"}}},
{"data":{"values":[{"a":"2020-01-31","b":"2026-07-08","v":18223.1}]},"mark":{"type":"rule","color":"#131722","opacity":0.8,"strokeWidth":1.5,"strokeDash":[1.5,4]},
"encoding":{"x":{"field":"a","type":"temporal"},"x2":{"field":"b"},"y":{"field":"v","type":"quantitative"}}},
{"data":{"values":[{"a":"2026-02-28","b":"2026-06-02","v":17532}]},"mark":{"type":"rule","color":"#ffffff","opacity":0.55,"strokeWidth":2,"strokeDash":[14,14]},
"encoding":{"x":{"field":"a","type":"temporal"},"x2":{"field":"b"},"y":{"field":"v","type":"quantitative"}}},
{"data":{"name":"bars"},"mark":{"type":"rule","color":"#2a2e39","strokeWidth":1.7},
"encoding":{"x":{"field":"d","type":"temporal"},"y":{"field":"l","type":"quantitative"},"y2":{"field":"h"}}},
{"data":{"name":"notes"},"mark":{"type":"text","font":"Inter","fontWeight":700,"fontSize":19,"color":"#2b4a80","align":"center","baseline":"middle"},
"encoding":{"x":{"field":"d","type":"temporal"},"y":{"field":"v","type":"quantitative"},"text":{"field":"t"}}},
{"data":{"name":"notesLeft"},"mark":{"type":"text","font":"Inter","fontWeight":700,"fontSize":19,"color":"#2b4a80","align":"left","baseline":"middle"},
"encoding":{"x":{"field":"d","type":"temporal"},"y":{"field":"v","type":"quantitative"},"text":{"field":"t"}}},
{"data":{"values":[{"t":"IBC · Índice IBEX 35 · 1D · BME  O","d":"2020-02-08","v":19870}]},"mark":{"type":"text","font":"Inter","fontSize":16.5,"color":"#b8bbc1","align":"left","baseline":"middle"},
"encoding":{"x":{"field":"d","type":"temporal"},"y":{"field":"v","type":"quantitative"},"text":{"field":"t"}}},
{"data":{"name":"tags"},"mark":{"type":"rect","cornerRadius":3},
"encoding":{"x":{"field":"a","type":"temporal"},"x2":{"field":"b"},"y":{"field":"lo","type":"quantitative"},"y2":{"field":"hi"},"color":{"field":"c","type":"nominal","scale":null,"legend":null}}},
{"data":{"name":"tagText"},"mark":{"type":"text","font":"Inter","fontSize":18.5,"color":"#ffffff","align":"left","baseline":"middle"},
"encoding":{"x":{"field":"d","type":"temporal"},"y":{"field":"v","type":"quantitative"},"text":{"field":"t"}}},
{"data":{"values":[{"t":"IBC","d":"2026-07-27","v":18205}]},"mark":{"type":"text","font":"Inter","fontSize":18,"color":"#ffffff","align":"center","baseline":"middle"},
"encoding":{"x":{"field":"d","type":"temporal"},"y":{"field":"v","type":"quantitative"},"text":{"field":"t"}}}
]}
